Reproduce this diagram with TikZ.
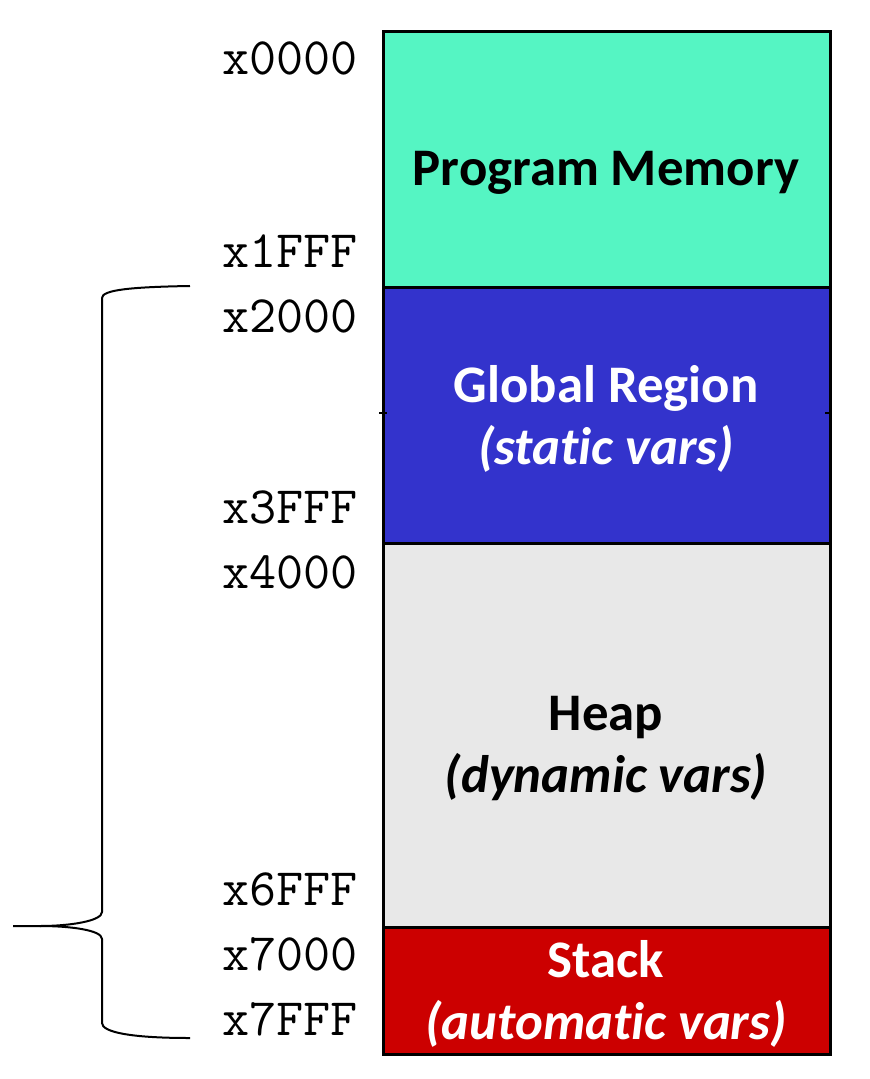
\documentclass[tikz,border=0pt]{standalone}
\usepackage{fontspec}
\setmainfont{Carlito}[Ligatures=NoCommon, RawFeature={-liga;-clig;-dlig}]
\definecolor{progcol}{RGB}{85,245,195}
\definecolor{globcol}{RGB}{51,51,204}
\definecolor{heapcol}{RGB}{232,232,232}
\definecolor{stackcol}{RGB}{204,0,0}
\tikzset{
  region/.style={draw=black, line width=1.3pt, anchor=north west, minimum width=223.5pt, inner sep=0pt},
  regtext/.style={font=\fontsize{26.4}{31}\selectfont\bfseries, align=center},
  addr/.style={font=\fontsize{26.3}{26}\ttfamily, anchor=base east, inner sep=0pt},
  brace/.style={line width=1pt}
}
\begin{document}
\begin{tikzpicture}[x=0.5pt, y=-0.5pt]
    \useasboundingbox (0,0) rectangle (870,1079);
    % memory regions
    \node[region, fill=progcol, minimum height=128pt] (prog) at (382,30) {};
    \node[region, fill=globcol, minimum height=128pt] (glob) at (382,286) {};
    \node[region, fill=heapcol, minimum height=192pt] (heap) at (382,542) {};
    \node[region, fill=stackcol, minimum height=63.5pt] (stack) at (382,926) {};
    \draw[line width=1.3pt] (379,413) -- (387,413);
    \draw[line width=1.3pt] (825,413) -- (832,413);
    \node[regtext] (progtxt) at (606,173) {Program Memory};
    \node[regtext, text=white] (globtxt) at (606,419) {Global Region\\\textit{(sta\kern0pt tic vars)}};
    \node[regtext] (heaptxt) at (606,749) {Heap\\\textit{(dynamic vars)}};
    \node[regtext, text=white] (stacktxt) at (606,994) {Stack\\\textit{(automa\kern0pt tic vars)}};
    % addresses
    \foreach \y/\a in {75/x0000, 268/x1FFF, 333/x2000, 523/x3FFF, 588/x4000, 905/x6FFF, 970/x7000, 1035/x7FFF}
      \node[addr] (a\a) at (358,\y) {\a};
    % brace
    \coordinate (bractop) at (190,286);
    \coordinate (bractip) at (13,926);
    \coordinate (bracbot) at (190,1038);
    \draw[brace] (bractop) .. controls (130,287) and (102,290) .. (102,298) -- (102,912)
      .. controls (102,921) and (70,926) .. (40,926) -- (bractip);
    \draw[brace] (40,926) .. controls (70,926) and (102,930) .. (102,939) -- (102,1023)
      .. controls (102,1032) and (130,1038) .. (bracbot);
\end{tikzpicture}
\end{document}
